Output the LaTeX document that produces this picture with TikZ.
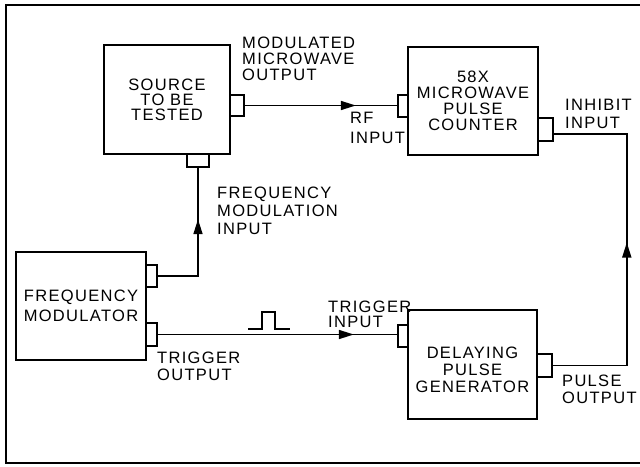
\documentclass[tikz,border=0pt]{standalone}
\usepackage{fontspec}
\setmainfont{Liberation Sans}[LetterSpace=8]
\usetikzlibrary{arrows.meta,decorations.markings}
\begin{document}
\begin{tikzpicture}[x=1pt,y=-1pt,
  box/.style={draw, line width=1.8pt, inner sep=0pt, align=center},
  tab/.style={draw, line width=1.6pt, inner sep=0pt},
  lbl/.style={anchor=north west, inner sep=0pt, align=left},
  wire/.style={line width=1.6pt},
  midarrow/.style={postaction={decorate,decoration={markings,
      mark=at position #1 with {\arrow{Triangle[length=15pt,width=9pt]}}}}},
  fs/.style={font=\fontsize{16.5}{#1}\selectfont}
]
\useasboundingbox (0,0) rectangle (640,466);
% frame
\draw[line width=1.5pt] (640,5) -- (6,5) -- (6,463) -- (640,463);

% boxes
\node[box, fs=15, minimum width=126pt, minimum height=109pt] (src) at (167,99.5) {SOURCE\\TO BE\\TESTED};
\node[box, fs=16, minimum width=130pt, minimum height=108pt] (cnt) at (473,101) {58X\\MICROWAVE\\PULSE\\COUNTER};
\node[box, fs=20, minimum width=130pt, minimum height=108pt] (fm) at (81,306) {FREQUENCY\\MODULATOR};
\node[box, minimum width=129pt, minimum height=109pt,
  label={[name=dpgtxt, align=center, fs=17, yshift=-5pt]center:DELAYING\\PULSE\\GENERATOR}] (dpg) at (472.5,364.5) {};

% connector tabs
\node[tab, minimum width=14pt, minimum height=21pt] (srcR) at (237,105.5) {};
\node[tab, minimum width=22pt, minimum height=13pt] (srcB) at (198,160.5) {};
\node[tab, minimum width=10pt, minimum height=22pt] (cntIn) at (403,106) {};
\node[tab, minimum width=15pt, minimum height=23pt] (cntInh) at (545.5,129.5) {};
\node[tab, minimum width=11pt, minimum height=22pt] (fmA) at (151.5,276) {};
\node[tab, minimum width=11pt, minimum height=23pt] (fmB) at (151.5,334.5) {};
\node[tab, minimum width=10pt, minimum height=22pt] (dpgIn) at (403,336) {};
\node[tab, minimum width=15pt, minimum height=23pt] (dpgOut) at (544.5,365.5) {};

% labels
\node[lbl, fs=16] (lmod) at (242,37) {MODULATED\\MICROWAVE\\OUTPUT};
\node[lbl, fs=20] (lrf) at (350,112) {RF\\INPUT};
\node[lbl, fs=18] (linh) at (565,99) {INHIBIT\\INPUT};
\node[lbl, fs=18] (lfmi) at (217,187) {FREQUENCY\\MODULATION\\INPUT};
\node[lbl, fs=16.5] (ltro) at (157,352) {TRIGGER\\OUTPUT};
\node[lbl, fs=15] (ltri) at (328,301) {TRIGGER\\INPUT};
\node[lbl, fs=17] (lpo) at (562,375) {PULSE\\OUTPUT};

% connectors
\draw[wire, midarrow=111pt] (srcR.east) -- (srcR.east -| cntIn.west);
\draw[wire, midarrow=97pt] (fmA.east) -| (srcB.south);
\draw[wire, midarrow=196pt] (fmB.east) -- (fmB.east -| dpgIn.west);
\draw[wire, midarrow=197pt] (dpgOut.east) -- ++(74,0) |- ([yshift=-4.5pt]cntInh.east);

% trigger pulse symbol
\draw[wire] (248,329) -- ++(14,0) -- ++(0,-17) -- ++(13,0) -- ++(0,17) -- ++(15,0);
\end{tikzpicture}
\end{document}
